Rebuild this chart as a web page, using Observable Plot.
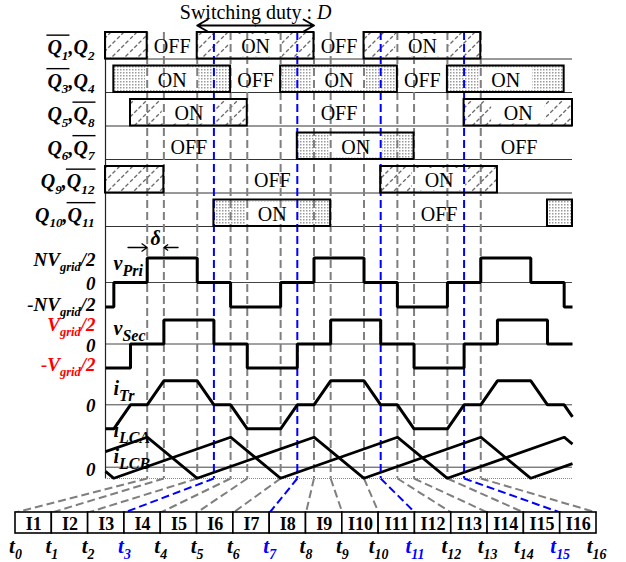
<!DOCTYPE html>
<html>
<head>
<meta charset="utf-8">
<script src="https://cdn.jsdelivr.net/npm/d3@7"></script>
<script src="https://cdn.jsdelivr.net/npm/@observablehq/plot@0.6"></script>
<style>
html,body{margin:0;padding:0;background:#fff;}
#chart svg{display:block;}
</style>
</head>
<body>
<div id="chart"></div>
<script>
// ================= DATA =================
// switching instants t0..t16 (time units)
const eventTimes = [0, 1, 3, 4, 5, 6, 8, 9, 10, 11, 13, 14, 15, 16, 18, 19, 20];
const highlightedEvents = [3, 7, 11, 15];
const tLabels = ["t_{0}","t_{1}","t_{2}","t_{3}","t_{4}","t_{5}","t_{6}","t_{7}","t_{8}","t_{9}","t_{10}","t_{11}","t_{12}","t_{13}","t_{14}","t_{15}","t_{16}"];
const intervalLabels = ["I1","I2","I3","I4","I5","I6","I7","I8","I9","I10","I11","I12","I13","I14","I15","I16"];

// gate signal rows (^{..} = overline, _{..} = subscript)
const switchRowLabels = ["^{Q_{1}},Q_{2}", "^{Q_{3}},Q_{4}", "Q_{5},^{Q_{8}}", "Q_{6},^{Q_{7}}", "Q_{9},^{Q_{12}}", "Q_{10},^{Q_{11}}"];
// ON intervals, hatched rows
const hatchBoxes = [
  {row: 0, start: -2.5, end: 0}, {row: 0, start: 3, end: 10}, {row: 0, start: 13, end: 20},
  {row: 2, start: -1, end: 6}, {row: 2, start: 19, end: 25.5},
  {row: 4, start: -2.5, end: 1}, {row: 4, start: 14, end: 21}
];
// ON intervals, dotted rows
const dotBoxes = [
  {row: 1, start: -2, end: 5}, {row: 1, start: 8, end: 15}, {row: 1, start: 18, end: 25},
  {row: 3, start: 9, end: 16},
  {row: 5, start: 4, end: 11}, {row: 5, start: 24, end: 25.5}
];
const onLabels = [
  {row: 0, at: 6.5}, {row: 0, at: 16.5},
  {row: 1, at: 1.5}, {row: 1, at: 11.5}, {row: 1, at: 21.5},
  {row: 2, at: 2.5}, {row: 2, at: 22.25},
  {row: 3, at: 12.5},
  {row: 4, at: 17.5},
  {row: 5, at: 7.5}
];
const offLabels = [
  {row: 0, at: 1.5}, {row: 0, at: 11.5},
  {row: 1, at: 6.5}, {row: 1, at: 16.5},
  {row: 2, at: 11.5},
  {row: 3, at: 2.5}, {row: 3, at: 22.3},
  {row: 4, at: 7.5},
  {row: 5, at: 17.5}
];

// waveforms: [time, level]
const vPri = [[-2.5,-1],[-2,0],[0,1],[3,0],[5,-1],[8,0],[10,1],[13,0],[15,-1],[18,0],[20,1],[23,0],[25,-1],[25.5,-1]];
const vSec = [[-2.5,-1],[-1,0],[1,1],[4,0],[6,-1],[9,0],[11,1],[14,0],[16,-1],[19,0],[21,1],[24,0],[25.5,0]];
const iTr = [[-2.5,-1],[-2,-1],[-1,0],[0,0],[1,1],[3,1],[4,0],[5,0],[6,-1],[8,-1],[9,0],[10,0],[11,1],[13,1],[14,0],[15,0],[16,-1],[18,-1],[19,0],[20,0],[21,1],[23,1],[24,0],[25,0],[25.5,-0.5]];
const iLCA = [[-2.5,0.52],[0,1],[3,-0.37],[10,1],[13,-0.37],[20,1],[23,-0.37],[25.5,0.12]];
const iLCB = [[-2.5,-0.14],[-2,-0.37],[5,1],[8,-0.37],[15,1],[18,-0.37],[25,1],[25.5,0.77]];

const levelLabels = [
  {text: "NV_{grid}/2", lane: "vPri", v: 1, red: false},
  {text: "0", lane: "vPri", v: 0, red: false},
  {text: "-NV_{grid}/2", lane: "vPri", v: -1, red: false},
  {text: "V_{grid}/2", lane: "vSec", v: 1, red: true},
  {text: "0", lane: "vSec", v: 0, red: false},
  {text: "-V_{grid}/2", lane: "vSec", v: -1, red: true},
  {text: "0", lane: "iTr", v: 0, red: false},
  {text: "0", lane: "iLC", v: 0, red: false}
];
const waveNames = [
  {text: "v~{Pri}", lane: "vPri"}, {text: "v~{Sec}", lane: "vSec"},
  {text: "i~{Tr}", lane: "iTr"}, {text: "i~{LCA}", lane: "iLC"}, {text: "i~{LCB}", lane: "iLC"}
];
const titleText = "Switching duty : *{D}";
const deltaText = "δ";

// ================= LAYOUT =================
const W = 626, H = 562;
const PX_LEFT = 105, PX_RIGHT = 572;
const U_DOMAIN = [-2.5, 25.5];
const ROW_TOP0 = 32, ROW_PITCH = 33.5, ROW_H = 26.5;
const AXIS_Y = 478;
const BOX_TOP = 512, BOX_BOTTOM = 533, BOX_LEFT = 15, BOX_RIGHT = 596;
const T_LABEL_Y = 546;
const DUTY_Y = 25, TITLE_Y = 12, DELTA_Y = 247;
const lanes = {
  vPri: {zero: 282, amp: 24.5},
  vSec: {zero: 343.5, amp: 24},
  iTr: {zero: 404.3, amp: 24},
  iLC: {zero: 466.7, amp: 30}
};
const levelLabelDy = [2, 1, -2, 5, 2, -3, 1, 3];
const waveNameY = [263, 328, 388, 430, 456];

const rowTop = r => ROW_TOP0 + r * ROW_PITCH;
const rowMid = r => rowTop(r) + ROW_H / 2;
const yv = (lane, v) => lanes[lane].zero - v * lanes[lane].amp;
const xs = d3.scaleLinear(U_DOMAIN, [PX_LEFT, PX_RIGHT]);
const boxU = k => xs.invert(BOX_LEFT + k * (BOX_RIGHT - BOX_LEFT) / 16);

const events = eventTimes.map((u, k) => ({u, k, blue: highlightedEvents.includes(k)}));
const grayEvents = events.filter(d => !d.blue);
const blueEvents = events.filter(d => d.blue);
const intervals = intervalLabels.map((s, k) => ({s, k}));
const tl = tLabels.map((s, k) => ({s, k, blue: highlightedEvents.includes(k)}));
const allBoxes = hatchBoxes.concat(dotBoxes);

const FONT = "Liberation Serif";
const GRAY = "#7f7f7f", BLUE = "#0000ff";
const dash = "8,4";

const waveLine = (data, lane, opts = {}) => Plot.line(data, {
  x: d => d[0], y: d => yv(lane, d[1]), stroke: "black", strokeWidth: 3,
  strokeLinejoin: "miter", strokeLinecap: "butt", ...opts
});

const plot = Plot.plot({
  width: W, height: H,
  marginLeft: PX_LEFT, marginRight: W - PX_RIGHT, marginTop: 0, marginBottom: 0,
  x: {domain: U_DOMAIN, axis: null},
  y: {domain: [0, H], range: [0, H], axis: null},
  style: {fontFamily: FONT, background: "white", overflow: "visible", color: "black"},
  marks: [
    // pattern fills
    Plot.rect(hatchBoxes, {x1: "start", x2: "end", y1: d => rowTop(d.row), y2: d => rowTop(d.row) + ROW_H, fill: "url(#hatch)"}),
    Plot.rect(dotBoxes, {x1: "start", x2: "end", y1: d => rowTop(d.row), y2: d => rowTop(d.row) + ROW_H, fill: "url(#dots)"}),
    Plot.rect(onLabels, {x1: d => d.at - 1.6, x2: d => d.at + 1.6, y1: d => rowTop(d.row) + 2, y2: d => rowTop(d.row) + ROW_H - 2, fill: "white"}),
    // row baselines
    Plot.ruleY(d3.range(6), {y: r => rowTop(r) + ROW_H, x1: U_DOMAIN[0], x2: U_DOMAIN[1], stroke: "#333", strokeWidth: 1}),
    // waveform zero lines
    Plot.ruleY(Object.keys(lanes), {y: k => lanes[k].zero, x1: U_DOMAIN[0], x2: U_DOMAIN[1], stroke: "#444", strokeWidth: 1}),
    // left axis
    Plot.ruleX([U_DOMAIN[0]], {y1: rowTop(0), y2: AXIS_Y, stroke: "#222", strokeWidth: 1.2}),
    // bottom dotted axis
    Plot.ruleY([AXIS_Y], {x1: U_DOMAIN[0], x2: U_DOMAIN[1], stroke: "#888", strokeWidth: 1, strokeDasharray: "1,1"}),
    // dashed switching instants
    Plot.ruleX(grayEvents, {x: "u", y1: rowTop(0), y2: AXIS_Y, stroke: GRAY, strokeWidth: 2, strokeDasharray: dash}),
    Plot.ruleX(blueEvents, {x: "u", y1: rowTop(0), y2: AXIS_Y, stroke: BLUE, strokeWidth: 2, strokeDasharray: dash}),
    // fan lines to interval boxes
    Plot.link(grayEvents, {x1: "u", y1: AXIS_Y, x2: d => boxU(d.k), y2: BOX_TOP, stroke: GRAY, strokeWidth: 2, strokeDasharray: dash}),
    Plot.link(blueEvents, {x1: "u", y1: AXIS_Y, x2: d => boxU(d.k), y2: BOX_TOP, stroke: BLUE, strokeWidth: 2, strokeDasharray: dash}),
    // box borders
    Plot.rect(allBoxes, {x1: "start", x2: "end", y1: d => rowTop(d.row), y2: d => rowTop(d.row) + ROW_H, fill: "none", stroke: "black", strokeWidth: 2}),
    // ON / OFF text
    Plot.text(onLabels, {x: "at", y: d => rowMid(d.row), text: () => "ON", fontSize: 20, dy: 1, fill: "black"}),
    Plot.text(offLabels, {x: "at", y: d => rowMid(d.row), text: () => "OFF", fontSize: 20, dy: 1, fill: "black"}),
    // waveforms
    waveLine(vPri, "vPri", {curve: "step-after"}),
    waveLine(vSec, "vSec", {curve: "step-after"}),
    waveLine(iTr, "iTr"),
    waveLine(iLCA, "iLC", {strokeWidth: 2.8}),
    waveLine(iLCB, "iLC", {strokeWidth: 2.8}),
    // row labels
    Plot.text(switchRowLabels, {x: U_DOMAIN[0], y: (d, i) => rowMid(i), text: d => d, textAnchor: "end", dx: -11, dy: 2, fontSize: 20, fontWeight: "bold", fontStyle: "italic", fill: "black"}),
    // level labels
    Plot.text(levelLabels.map((d, i) => ({...d, i})).filter(d => !d.red), {x: U_DOMAIN[0], y: d => yv(d.lane, d.v) + levelLabelDy[d.i], text: "text", textAnchor: "end", dx: -10, fontSize: 19, fontWeight: "bold", fontStyle: "italic", fill: "black"}),
    Plot.text(levelLabels.map((d, i) => ({...d, i})).filter(d => d.red), {x: U_DOMAIN[0], y: d => yv(d.lane, d.v) + levelLabelDy[d.i], text: "text", textAnchor: "end", dx: -10, fontSize: 19, fontWeight: "bold", fontStyle: "italic", fill: "#ff0000"}),
    // waveform names
    Plot.text(waveNames, {x: U_DOMAIN[0], y: (d, i) => waveNameY[i], text: "text", textAnchor: "start", dx: 8, fontSize: 20, fontWeight: "bold", fontStyle: "italic", fill: "black"}),
    // delta annotation
    Plot.arrow([{a: -1.15, b: 0}, {a: 1.85, b: 1}], {x1: "a", x2: "b", y1: DELTA_Y, y2: DELTA_Y, stroke: "black", strokeWidth: 1.3, headLength: 9, headAngle: 70}),
    Plot.text([deltaText], {x: 0.5, y: DELTA_Y - 9, text: d => d, fontSize: 20, fontWeight: "bold", fontStyle: "italic", fill: "black"}),
    // switching duty annotation
    Plot.arrow([{a: 6.5, b: 3}, {a: 6.5, b: 10}], {x1: "a", x2: "b", y1: DUTY_Y, y2: DUTY_Y, stroke: "black", strokeWidth: 2, headLength: 9, headAngle: 60}),
    Plot.text([titleText], {x: 6.5, y: TITLE_Y, text: d => d, fontSize: 20, fill: "black"}),
    // interval boxes
    Plot.rect(intervals, {x1: d => boxU(d.k), x2: d => boxU(d.k + 1), y1: BOX_TOP, y2: BOX_BOTTOM, fill: "white", stroke: "black", strokeWidth: 1.6}),
    Plot.text(intervals, {x: d => (boxU(d.k) + boxU(d.k + 1)) / 2, y: (BOX_TOP + BOX_BOTTOM) / 2, text: "s", fontSize: 18, fontWeight: "bold", dy: 1, fill: "black"}),
    Plot.text(tl.filter(d => !d.blue), {x: d => boxU(d.k), y: T_LABEL_Y, text: "s", fontSize: 21, fontWeight: "bold", fontStyle: "italic", fill: "black"}),
    Plot.text(tl.filter(d => d.blue), {x: d => boxU(d.k), y: T_LABEL_Y, text: "s", fontSize: 21, fontWeight: "bold", fontStyle: "italic", fill: BLUE})
  ]
});

document.getElementById("chart").appendChild(plot);

// ---------- patterns ----------
const NS = "http://www.w3.org/2000/svg";
const defs = document.createElementNS(NS, "defs");
defs.innerHTML = `
<pattern id="hatch" patternUnits="userSpaceOnUse" width="13" height="13">
  <rect width="13" height="13" fill="#fff"/>
  <path d="M0,13 L13,0 M-3,3 L3,-3 M10,16 L16,10" stroke="#6a6a6a" stroke-width="1.3" stroke-dasharray="4,2"/>
</pattern>
<pattern id="dots" patternUnits="userSpaceOnUse" width="3" height="3">
  <rect width="3" height="3" fill="#fff"/>
  <rect width="1.5" height="1.5" fill="#9a9a9a"/>
</pattern>`;
plot.insertBefore(defs, plot.firstChild);

// ---------- rich text (subscripts, overlines, italics) ----------
function parseMarkup(s) {
  const segs = [];
  function walk(str, st) {
    let buf = "";
    const flush = () => { if (buf) { segs.push({t: buf, ...st}); buf = ""; } };
    let j = 0;
    while (j < str.length) {
      const c = str[j];
      if ("_^~*".includes(c) && str[j + 1] === "{") {
        let depth = 0, k = j + 1;
        for (; k < str.length; k++) {
          if (str[k] === "{") depth++;
          else if (str[k] === "}") { depth--; if (depth === 0) break; }
        }
        flush();
        walk(str.slice(j + 2, k), {
          sub: st.sub || c === "_" || c === "~",
          big: st.big || c === "~",
          over: st.over || c === "^",
          ital: st.ital || c === "*"
        });
        j = k + 1;
      } else { buf += c; j++; }
    }
    flush();
  }
  walk(s, {sub: false, big: false, over: false, ital: false});
  return segs;
}

plot.querySelectorAll("text").forEach(t => {
  const s = t.textContent;
  if (!/[_^~*]\{/.test(s)) return;
  const base = parseFloat(getComputedStyle(t).fontSize) || 20;
  const segs = parseMarkup(s);
  while (t.firstChild) t.removeChild(t.firstChild);
  let shift = 0;
  const runs = []; let run = null;
  segs.forEach(sg => {
    const ts = document.createElementNS(NS, "tspan");
    const ratio = sg.big ? 0.8 : 0.66;
    const target = sg.sub ? base * 0.28 : 0;
    if (target !== shift) ts.setAttribute("dy", (target - shift).toFixed(2));
    shift = target;
    if (sg.sub) ts.setAttribute("font-size", (base * ratio).toFixed(1) + "px");
    if (sg.ital) ts.setAttribute("font-style", "italic");
    ts.textContent = sg.t;
    t.appendChild(ts);
    if (sg.over) { if (!run) { run = []; runs.push(run); } run.push(ts); } else run = null;
  });
  t.__runs = runs;
});

// overlines drawn from measured glyph positions
plot.querySelectorAll("text").forEach(t => {
  if (!t.__runs) return;
  t.__runs.forEach(run => {
    const first = run[0], last = run[run.length - 1];
    const x1 = first.getStartPositionOfChar(0).x;
    const x2 = last.getEndPositionOfChar(last.textContent.length - 1).x;
    const top = first.getExtentOfChar(0).y;
    const ln = document.createElementNS(NS, "line");
    ln.setAttribute("x1", x1 - 1); ln.setAttribute("x2", x2 + 1);
    ln.setAttribute("y1", top - 1); ln.setAttribute("y2", top - 1);
    ln.setAttribute("stroke", "black"); ln.setAttribute("stroke-width", "1.4");
    if (t.getAttribute("transform")) ln.setAttribute("transform", t.getAttribute("transform"));
    t.parentNode.appendChild(ln);
  });
});
</script>
</body>
</html>
